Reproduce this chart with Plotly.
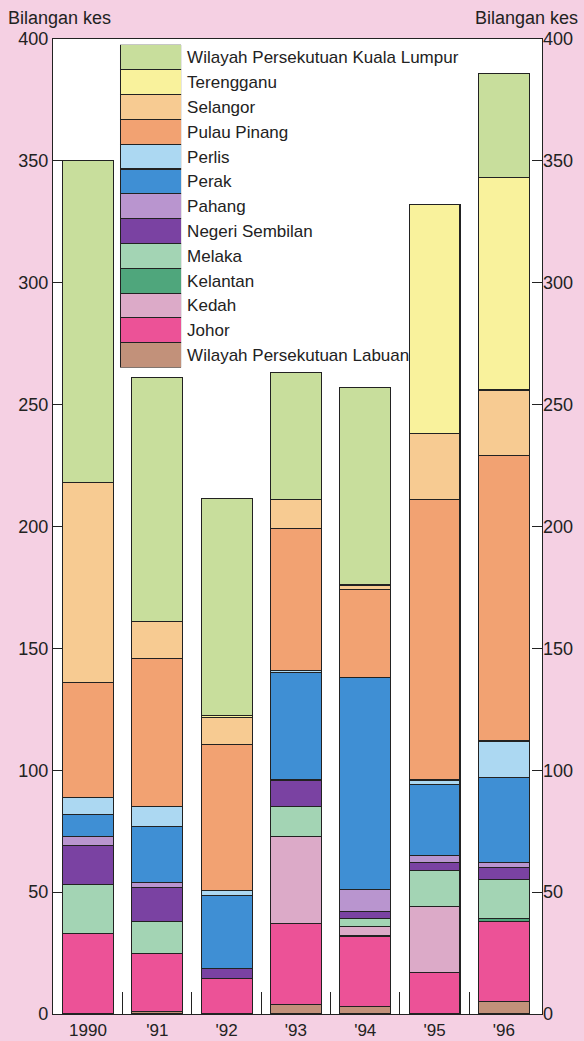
import plotly.graph_objects as go

years = ["1990", "'91", "'92", "'93", "'94", "'95", "'96"]

# stacked bottom -> top
regions = [
    "Wilayah Persekutuan Labuan", "Johor", "Kedah", "Kelantan", "Melaka",
    "Negeri Sembilan", "Pahang", "Perak", "Perlis", "Pulau Pinang",
    "Selangor", "Terengganu", "Wilayah Persekutuan Kuala Lumpur",
]
labuan     = [0, 1, 0, 4, 3, 0, 5]
johor      = [33, 24, 14.5, 33, 29, 17, 33]
kedah      = [0, 0, 0, 36, 4, 27, 0]
kelantan   = [0, 0, 0, 0, 0, 0, 1]
melaka     = [20, 13, 0, 12, 3, 15, 16]
nsembilan  = [16, 14, 4, 11, 3, 3, 5]
pahang     = [4, 2, 0, 0, 9, 3, 2]
perak      = [9, 23, 30, 44, 87, 29, 35]
perlis     = [7, 8, 2, 1, 0, 2, 15]
pinang     = [47, 61, 60, 58, 36, 115, 117]
selangor   = [82, 15, 11, 12, 2, 27, 27]
terengganu = [0, 0, 1, 0, 0, 94, 87]
kl         = [132, 100, 89, 52, 81, 0, 43]

series = [labuan, johor, kedah, kelantan, melaka, nsembilan, pahang,
          perak, perlis, pinang, selangor, terengganu, kl]
colors = ["#c2917a", "#ec5297", "#dcaac8", "#4fa67c", "#a3d4b4",
          "#7a42a2", "#b995cf", "#3f8fd4", "#acd8f2", "#f2a272",
          "#f7cb92", "#f9f29c", "#c8de9c"]

y_ticks = [0, 50, 100, 150, 200, 250, 300, 350, 400]

FONT = "Liberation Sans, Arial, sans-serif"
PINK = "#f5d0e3"

fig = go.Figure()
xs = list(range(len(years)))
for name, vals, col in zip(regions, series, colors):
    fig.add_trace(go.Bar(
        x=xs, y=vals, name=name, width=0.735,
        marker=dict(color=col, line=dict(color="#222222", width=1.1)),
        showlegend=False, hoverinfo="name+y",
    ))

# legend drawn as a small bar subplot (swatches + labels)
leg_order = regions  # bottom -> top in category axis
fig.add_trace(go.Bar(
    y=leg_order, x=[1] * len(leg_order), orientation="h", width=1,
    marker=dict(color=colors, line=dict(color="#222222", width=1.1)),
    xaxis="x3", yaxis="y3", showlegend=False, hoverinfo="y",
))

# invisible trace on right axis so it renders
fig.add_trace(go.Scatter(x=[xs[0]], y=[0], yaxis="y2", mode="markers",
                         marker=dict(opacity=0), showlegend=False, hoverinfo="skip"))

fig.update_layout(
    width=584, height=1041,
    margin=dict(l=53, r=42, t=39, b=27, autoexpand=False),
    paper_bgcolor=PINK, plot_bgcolor="white",
    barmode="stack",
    font=dict(family=FONT, size=18, color="#222222"),
    xaxis=dict(
        range=[-0.505, 6.55], tickmode="array", tickvals=xs, ticktext=years,
        ticks="", showline=True, linecolor="#222222", linewidth=1.2, mirror=True,
        showgrid=False, zeroline=False, fixedrange=True, ticklabelstandoff=0,
        tickfont=dict(size=17), automargin=False,
        minor=dict(tickmode="array", tickvals=[0.5, 1.5, 2.5, 3.5, 4.5, 5.5],
                   ticks="inside", ticklen=22, tickcolor="#222222", tickwidth=1.2),
    ),
    yaxis=dict(
        range=[0, 400], tickmode="array", tickvals=y_ticks, automargin=False,
        ticks="inside", ticklen=10, tickcolor="#222222", tickwidth=1.2,
        showline=True, linecolor="#222222", linewidth=1.2, mirror="ticks",
        showgrid=False, zeroline=False,
    ),
    yaxis2=dict(
        range=[0, 400], overlaying="y", side="right", tickmode="array", automargin=False,
        tickvals=y_ticks, ticks="", showline=False, showgrid=False, zeroline=False,
    ),
    xaxis3=dict(domain=[0.137, 0.262], anchor="y3", range=[0, 1], visible=False),
    yaxis3=dict(
        domain=[0.663, 0.994], anchor="x3", side="right", type="category",
        categoryorder="array", categoryarray=leg_order, range=[-0.5, 12.5],
        ticks="", showline=False, showgrid=False, zeroline=False, automargin=False,
        tickfont=dict(size=17, color="#222222"), ticklabelstandoff=5,
    ),
    annotations=[
        dict(text="Bilangan kes", xref="paper", yref="paper", x=0, y=1,
             xanchor="left", yanchor="middle", xshift=-47, yshift=21,
             showarrow=False, font=dict(size=18)),
        dict(text="Bilangan kes", xref="paper", yref="paper", x=1, y=1,
             xanchor="right", yanchor="middle", xshift=38, yshift=21,
             showarrow=False, font=dict(size=18)),
    ],
)

fig.write_html(
    "out.html",
    config={"displayModeBar": False},
    post_script="document.body.style.margin='0';document.body.style.overflow='hidden';",
)
